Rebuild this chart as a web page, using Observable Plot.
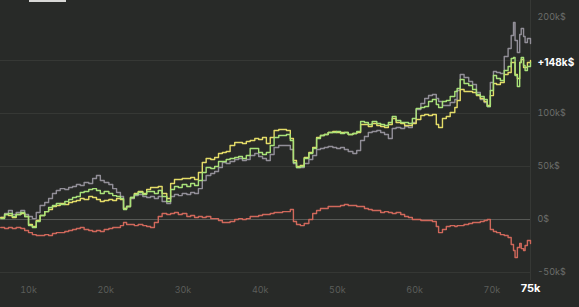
<!DOCTYPE html>
<html>
<head>
<meta charset="utf-8">
<script src="https://cdn.jsdelivr.net/npm/d3@7"></script>
<script src="https://cdn.jsdelivr.net/npm/@observablehq/plot@0.6"></script>
<style>
  html, body { margin: 0; padding: 0; background: #282a28; }
  #wrap { position: relative; width: 579px; height: 307px; overflow: hidden; }
  #tab { position: absolute; left: 29px; top: 0; width: 37px; height: 2px; background: #d8d8d6; }
</style>
</head>
<body>
<div id="wrap"><div id="tab"></div></div>
<script>
// Trade count (thousands) at each sample
const trades = [
  6.4, 6.9, 7.4, 7.9, 8.4, 9.0, 9.5, 10.0, 10.5, 11.0, 11.5, 12.1, 12.6, 13.1, 13.6, 14.1,
  14.7, 15.2, 15.7, 16.2, 16.7, 17.2, 17.8, 18.3, 18.8, 19.3, 19.8, 20.4, 20.9, 21.4, 21.9,
  22.3, 22.7, 23.2, 23.7, 24.2, 24.8, 25.3, 25.8, 26.3, 26.8, 27.3, 27.9, 28.4, 28.9, 29.4,
  29.9, 30.5, 31.0, 31.5, 32.0, 32.5, 33.0, 33.6, 34.1, 34.6, 35.1, 35.6, 36.1, 36.7, 37.2,
  37.7, 38.2, 38.7, 39.3, 39.8, 40.3, 40.8, 41.3, 41.8, 42.4, 42.9, 43.4, 43.9, 44.3, 44.7,
  45.2, 45.7, 46.3, 46.8, 47.3, 47.8, 48.3, 48.8, 49.4, 49.9, 50.4, 50.9, 51.4, 52.0, 52.5,
  53.0, 53.5, 54.0, 54.5, 55.1, 55.6, 56.1, 56.6, 57.1, 57.6, 58.2, 58.7, 59.2, 59.7, 60.2,
  60.8, 61.3, 61.8, 62.3, 62.8, 63.1, 63.6, 64.1, 64.6, 65.2, 65.5, 65.9, 66.4, 67.0, 67.5,
  68.0, 68.5, 69.0, 69.4, 69.8, 70.2, 70.6, 71.1, 71.6, 72.1, 72.5, 72.8, 73.0, 73.3, 73.6,
  73.8, 74.1, 74.3, 74.6, 75.0
];

// Cumulative P&L per strategy, k$
const benchmark = [
  1.9, 5.7, 8.5, 4.7, 6.6, 8.5, 4.7, 2.8, 0.9, 6.6, 13.2, 16.0, 19.8, 24.5, 27.4, 29.2,
  28.3, 30.2, 31.1, 33.0, 32.1, 34.9, 34.0, 38.7, 41.5, 36.8, 34.9, 33.0, 29.2, 25.5, 21.7,
  10.4, 12.3, 19.8, 22.6, 23.6, 21.7, 20.8, 21.7, 19.8, 21.7, 17.0, 15.1, 21.7, 23.6, 22.6,
  24.5, 23.6, 25.5, 24.5, 29.2, 36.8, 41.5, 43.4, 45.3, 49.1, 53.8, 52.8, 54.7, 56.6, 57.5,
  55.7, 56.6, 60.4, 62.3, 59.4, 57.5, 55.7, 61.3, 67.9, 69.8, 69.8, 69.8, 66.0, 52.8, 49.1,
  49.1, 52.8, 56.6, 60.4, 66.0, 67.0, 67.9, 68.9, 67.9, 67.0, 67.9, 66.0, 64.2, 62.3, 65.1,
  74.5, 78.3, 82.1, 83.0, 84.0, 82.1, 80.2, 76.4, 85.8, 86.8, 85.8, 87.7, 86.8, 91.5, 103.8,
  109.4, 114.2, 117.0, 117.9, 114.2, 111.3, 107.5, 107.5, 110.4, 113.2, 121.7, 136.8, 134.0, 130.2, 127.4,
  119.8, 113.2, 110.4, 106.6, 129.2, 139.6, 138.7, 137.7, 154.7, 164.0, 179.1, 194.2, 173.3, 159.3, 180.2,
  187.2, 177.9, 170.9, 175.6, 169.8
];
const variantA = [
  1.9, 4.7, 3.8, 1.9, 4.7, 5.7, 2.8, -4.7, -6.6, -0.9, 3.8, 7.5, 9.4, 12.3, 13.2, 15.1,
  14.2, 16.0, 17.0, 17.9, 19.8, 18.9, 21.7, 20.8, 18.9, 17.0, 17.9, 18.9, 17.9, 19.8, 18.9,
  10.4, 12.3, 20.8, 24.5, 26.4, 24.5, 28.3, 30.2, 30.2, 31.1, 24.5, 19.8, 34.0, 37.7, 37.7,
  38.7, 38.7, 39.6, 37.7, 44.3, 53.8, 57.5, 56.6, 58.5, 62.3, 63.2, 64.2, 69.8, 72.6, 72.6,
  71.7, 73.6, 74.5, 76.4, 75.5, 77.4, 71.7, 77.4, 84.0, 84.9, 84.9, 84.0, 76.4, 55.7, 50.0,
  50.9, 58.5, 63.2, 67.9, 77.4, 79.2, 80.2, 82.1, 83.0, 82.1, 82.1, 82.1, 80.2, 81.1, 82.1,
  89.6, 89.6, 87.7, 90.6, 88.7, 87.7, 86.8, 89.6, 95.3, 91.5, 90.6, 88.7, 88.7, 90.6, 94.3,
  98.1, 99.1, 98.1, 99.1, 89.6, 86.8, 95.3, 97.2, 100.9, 105.7, 112.3, 122.6, 120.8, 120.8, 119.8,
  117.0, 114.2, 111.3, 107.5, 116.9, 128.3, 127.4, 129.2, 136.8, 138.7, 148.1, 148.1, 136.8, 133.0, 148.1,
  151.2, 143.4, 143.4, 148.1, 150.0
];
const variantB = [
  0.9, 4.7, 5.7, 2.8, 4.7, 6.6, 2.8, -5.7, -7.5, -1.9, 3.8, 7.5, 11.3, 13.2, 15.1, 14.2,
  17.0, 18.9, 20.8, 21.7, 25.5, 26.4, 28.3, 29.2, 27.4, 24.5, 26.4, 24.5, 22.6, 21.7, 19.8,
  9.4, 12.3, 20.8, 23.6, 25.5, 23.6, 26.4, 26.4, 24.5, 27.4, 21.7, 17.0, 28.3, 31.1, 30.2,
  33.0, 31.1, 34.0, 32.1, 36.8, 44.3, 49.1, 48.1, 50.0, 54.7, 54.7, 56.6, 57.5, 58.5, 59.4,
  57.5, 60.4, 67.0, 67.0, 63.2, 61.3, 63.2, 69.8, 77.4, 79.2, 79.2, 80.2, 74.5, 53.8, 49.1,
  50.0, 57.5, 62.3, 67.0, 76.4, 79.2, 80.2, 82.1, 82.1, 83.0, 81.1, 82.1, 80.2, 81.1, 83.0,
  92.5, 91.5, 89.6, 92.5, 90.6, 89.6, 88.7, 91.5, 97.2, 93.4, 91.5, 91.5, 90.6, 95.3, 104.7,
  105.7, 106.6, 111.3, 113.2, 108.5, 105.7, 111.3, 112.3, 116.0, 120.8, 123.6, 132.1, 128.3, 126.4, 122.6,
  117.9, 116.0, 113.2, 106.6, 121.7, 135.8, 133.0, 131.1, 140.6, 144.3, 152.3, 153.5, 135.8, 125.5, 148.1,
  153.5, 145.3, 140.6, 144.3, 148.1
];
const spread = [
  -7.5, -8.5, -7.5, -8.5, -7.5, -8.5, -10.4, -12.3, -14.2, -15.1, -15.1, -14.2, -15.1, -13.2, -12.3, -12.3,
  -11.3, -10.4, -9.4, -8.5, -7.5, -9.4, -10.4, -11.3, -10.4, -11.3, -9.4, -8.5, -7.5, -7.5, -5.7,
  -2.8, -4.7, -4.7, -5.7, -4.7, -5.7, -6.6, -7.5, -2.8, 2.8, 5.7, 4.7, 5.7, 6.6, 4.7,
  5.7, 2.8, 3.8, 1.9, 2.8, 1.9, 2.8, 0.9, 0.9, -0.9, -2.8, -2.8, -1.9, 0.0, 0.9,
  0.0, 0.9, 2.8, 2.8, 3.8, 4.7, 4.7, 5.7, 6.6, 6.6, 7.5, 7.5, 9.4, -1.9, -4.7,
  -5.7, -3.8, 0.0, 5.7, 8.5, 10.4, 10.4, 12.3, 12.3, 12.3, 13.2, 14.2, 13.2, 13.2, 12.3,
  12.3, 10.4, 9.4, 8.5, 8.5, 6.6, 7.5, 6.6, 5.7, 6.6, 4.7, 2.8, 1.9, 0.0, 0.0,
  -0.9, -0.9, -0.9, -1.9, -6.6, -12.3, -9.4, -6.6, -5.7, -6.6, -5.7, -5.7, -4.7, -3.8, -2.8,
  -2.8, -1.9, -0.9, 0.0, -9.4, -11.3, -12.3, -14.2, -15.1, -17.0, -23.6, -29.2, -35.8, -26.4, -22.6,
  -27.4, -29.2, -24.5, -19.8, -22.6
];

const xTicks = [10, 20, 30, 40, 50, 60, 70];
const xEnd = 75;
const yTicks = [-50, 0, 50, 100, 200];
const yGrid = [-50, 0, 50, 100, 150];

const series = [
  { name: "benchmark", values: benchmark, color: "#928f98" },
  { name: "variantA", values: variantA, color: "#e4dc68" },
  { name: "variantB", values: variantB, color: "#a9e27a" },
  { name: "spread", values: spread, color: "#d0685b" }
];

const rows = series.flatMap(s => s.values.map((v, i) => ({ name: s.name, x: trades[i], v })));
const lastB = { x: trades[trades.length - 1], v: variantB[variantB.length - 1] };

const fmtK = v => v === 0 ? "0$" : `${v}k$`;

const chart = Plot.plot({
  width: 579,
  height: 307,
  marginLeft: 0,
  marginRight: 49,
  marginTop: 0,
  marginBottom: 27,
  style: { background: "transparent", color: "#6c6e6b", fontFamily: "Inter, Roboto, sans-serif", fontSize: "9px" },
  x: { type: "linear", domain: [6.37, xEnd], label: null },
  // compressed band above 150k$
  y: { type: "linear", domain: [-57.5, 150, 200], range: [280, 60, 17], label: null },
  marks: [
    Plot.ruleY(yGrid, { y: d => d, stroke: d => d === 0 ? "#595b58" : "#363835", strokeWidth: 1 }),
    Plot.ruleX([xEnd], { x: d => d, stroke: "#363835" }),
    ...series.map(s => Plot.lineY(rows.filter(r => r.name === s.name), {
      x: "x", y: "v", stroke: s.color, strokeWidth: 1.4, curve: "step-after", strokeLinejoin: "round"
    })),
    Plot.axisY(yTicks, { anchor: "right", tickSize: 0, tickPadding: 7, tickFormat: fmtK, fill: "#6c6e6b", label: null }),
    Plot.axisX(xTicks, { anchor: "bottom", tickSize: 0, tickPadding: 6, tickFormat: d => `${d}k`, fill: "#5b5d5a", label: null }),
    Plot.text([xEnd], { x: d => d, frameAnchor: "bottom", dy: 11, text: d => `${d}k`, fill: "#ffffff", fontWeight: "bold", fontSize: 11 }),
    Plot.text([lastB], { x: "x", y: "v", text: d => `+${Math.round(d.v)}k$`, textAnchor: "start", dx: 7, fill: "#ffffff", fontWeight: "bold", fontSize: 10 })
  ]
});

document.getElementById("wrap").prepend(chart);
</script>
</body>
</html>
